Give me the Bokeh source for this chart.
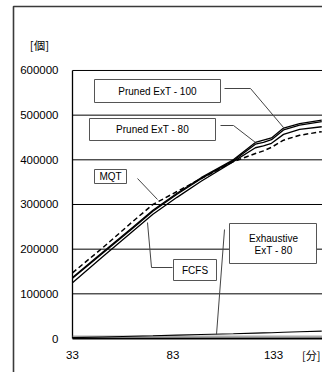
from bokeh.plotting import figure
from bokeh.models import Range1d
from bokeh.core.properties import value
from bokeh.embed import file_html
from bokeh.resources import INLINE

# ---- data -------------------------------------------------------------
minutes = [33, 48, 63, 73, 85, 97, 113, 124, 128, 132, 138, 146, 157]

pruned_ext_100 = [136500, 193000, 249000, 287000, 325000, 360000,
                  400000, 439000, 444000, 449000, 471000, 481000, 489000]
pruned_ext_80 = [135000, 191000, 247000, 285000, 323000, 358000,
                 398000, 435000, 439000, 445000, 467000, 477500, 485500]
fcfs = [125000, 183000, 240000, 278000, 316000, 352000,
        396000, 427000, 431000, 437000, 457000, 468000, 474000]
mqt = [147000, 203000, 262000, 300000, 329000, 358000,
       396000, 414000, 420000, 428000, 444000, 455000, 463000]
exhaustive_ext_80 = [2000, 3500, 5000, 6000, 7500, 9000,
                     10500, 12000, 12500, 13000, 14000, 15000, 16500]

y_ticks = [0, 100000, 200000, 300000, 400000, 500000, 600000]
x_ticks = [33, 83, 133]
y_unit = "[個]"
x_unit = "[分]"

# ---- page geometry (pixels) -> data coordinates ------------------------
W, H = 322, 372
X_ORIGIN_PX, MIN_PX = 72, 2.01          # minute 33 sits at x=72 px
Y_ORIGIN_PX, UNIT_PX = 338, 44.67 / 100000


def dx(px):
    return x_ticks[0] + (px - X_ORIGIN_PX) / MIN_PX


def dy(py):
    return (Y_ORIGIN_PX - py) / UNIT_PX


p = figure(width=W, height=H, output_backend="svg", toolbar_location=None,
           x_range=Range1d(dx(0), dx(W)), y_range=Range1d(dy(H), dy(0)),
           x_axis_type=None, y_axis_type=None, min_border=0)
p.outline_line_color = None
p.background_fill_color = "white"
p.border_fill_color = "white"

FONT = value("Liberation Sans")

# outer frame of the sheet
p.line([dx(13), dx(13), dx(W + 5)], [dy(H + 5), dy(6), dy(6)],
       line_color="#3a3a3a", line_width=1.6)

# horizontal grid lines and the value axis
grid_vals = y_ticks[1:]
p.segment(x0=[dx(X_ORIGIN_PX)] * len(grid_vals), x1=[dx(W + 5)] * len(grid_vals),
          y0=grid_vals, y1=grid_vals, line_color="black", line_width=1)
p.line([dx(X_ORIGIN_PX)] * 2, [y_ticks[0], y_ticks[-1]],
       line_color="black", line_width=1.3)

# base line along zero: dark rule with a dotted hatch above it
p.line([x_ticks[0], dx(W + 5)], [y_ticks[0], y_ticks[0]],
       line_color="black", line_width=2.2)
p.line([x_ticks[0], dx(W + 5)], [dy(Y_ORIGIN_PX - 2.2)] * 2,
       line_color="#555555", line_width=1.4, line_dash="1 1")

# series
p.line(minutes, exhaustive_ext_80, line_color="black", line_width=1.1)
p.line(minutes, fcfs, line_color="black", line_width=1.3)
p.line(minutes, pruned_ext_80, line_color="black", line_width=1.3)
p.line(minutes, pruned_ext_100, line_color="black", line_width=1.3)
p.line(minutes, mqt, line_color="black", line_width=1.5, line_dash="5 3")

# callout leader lines
leaders = [
    [(224, 88), (250, 88), (283, 127)],      # Pruned ExT - 100
    [(220, 125), (233, 125), (255, 142)],    # Pruned ExT - 80
    [(137, 178), (157, 199)],                # MQT
    [(172, 267), (151, 267), (147, 222)],    # FCFS
    [(224, 229), (216, 334)],                # Exhaustive ExT - 80
]
for pts in leaders:
    p.line([dx(a) for a, _ in pts], [dy(b) for _, b in pts],
           line_color="#444444", line_width=1)

# callout boxes: (left, right, top, bottom) in px
boxes = [(94, 220, 79, 102), (89, 215, 118, 140), (94, 126, 169, 183),
         (173, 216, 259, 280), (229, 316, 223, 263)]
p.quad(left=[dx(b[0]) for b in boxes], right=[dx(b[1]) for b in boxes],
       top=[dy(b[2]) for b in boxes], bottom=[dy(b[3]) for b in boxes],
       fill_color="white", line_color="#555555", line_width=1)

labels = [("Pruned ExT - 100", 157, 90.5), ("Pruned ExT - 80", 152, 129),
          ("MQT", 110, 176), ("FCFS", 194.5, 270),
          ("Exhaustive", 273, 238), ("ExT - 80", 273, 250)]
p.text(x=[dx(a) for _, a, _ in labels], y=[dy(b) for _, _, b in labels],
       text=[t for t, _, _ in labels], text_font=FONT, text_font_size="10px",
       text_align="center", text_baseline="middle", text_color="black")

# tick labels
p.text(x=[dx(58)] * len(y_ticks), y=y_ticks, text=[str(v) for v in y_ticks],
       text_font=FONT, text_font_size="11.5px", text_align="right",
       text_baseline="middle", text_color="black")
p.text(x=x_ticks, y=[dy(354)] * len(x_ticks), text=[str(v) for v in x_ticks],
       text_font=FONT, text_font_size="11.5px", text_align="center",
       text_baseline="middle", text_color="black")

# units
p.text(x=[dx(39)], y=[dy(44)], text=[y_unit], text_font=value("Noto Sans CJK JP"),
       text_font_size="11.5px", text_align="center", text_baseline="middle",
       text_color="black")
p.text(x=[dx(320)], y=[dy(354)], text=[x_unit], text_font=value("Noto Sans CJK JP"),
       text_font_size="11px", text_align="right", text_baseline="middle",
       text_color="black")

open("out.html", "w").write(file_html(p, INLINE))
